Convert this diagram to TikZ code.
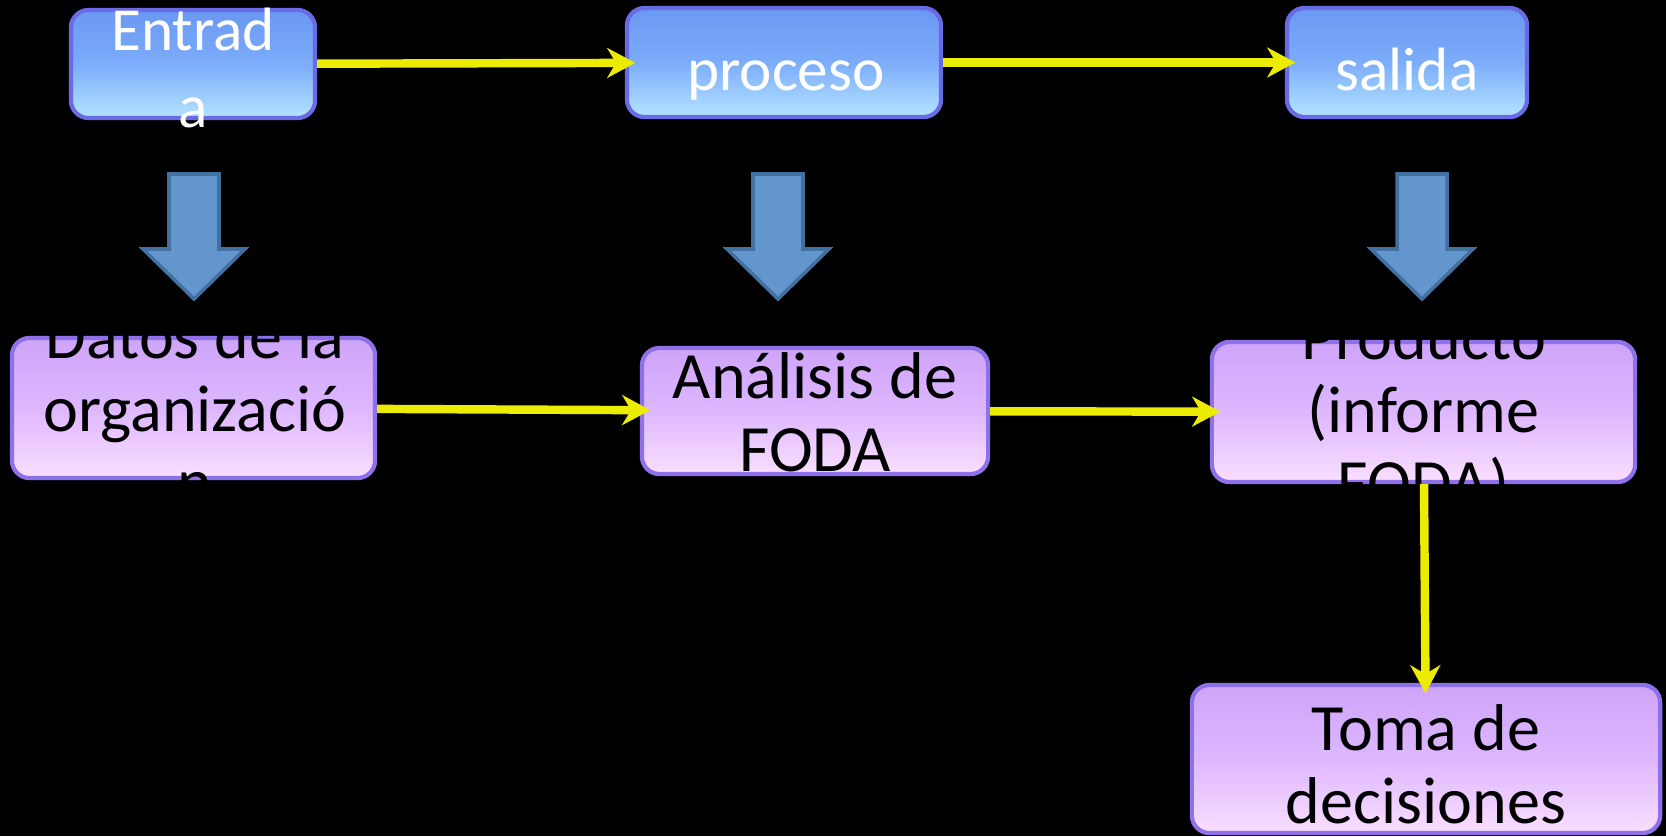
\documentclass[tikz,border=0pt]{standalone}
\usepackage{fontspec}
\setmainfont{Carlito}
\usetikzlibrary{positioning, arrows.meta}

\definecolor{boxblue}{RGB}{124,172,250}
\definecolor{boxbluetop}{RGB}{106,152,242}
\definecolor{boxbluelow}{RGB}{180,228,255}
\definecolor{edgeblue}{RGB}{106,106,228}
\definecolor{boxlila}{RGB}{221,183,255}
\definecolor{boxlilatop}{RGB}{206,164,248}
\definecolor{boxlilalow}{RGB}{250,222,255}
\definecolor{edgelila}{RGB}{142,112,232}
\definecolor{flowyellow}{RGB}{236,236,0}
\definecolor{bigblue}{RGB}{100,150,206}
\definecolor{bigedge}{RGB}{66,112,160}

\begin{document}
\begin{tikzpicture}[x=0.01cm, y=-0.01cm]
    % Define styles
    \tikzset{
        topbox/.style={rectangle, rounded corners=5pt, draw=edgeblue, line width=1.2pt,
            top color=boxbluetop, bottom color=boxbluelow, middle color=boxblue, inner sep=0pt},
        botbox/.style={rectangle, rounded corners=5pt, draw=edgelila, line width=1.2pt,
            top color=boxlilatop, bottom color=boxlilalow, middle color=boxlila, inner sep=0pt},
        toptext/.style={anchor=base, inner sep=0pt, text=white, font=\fontsize{17.4}{21.9}\selectfont},
        bottext/.style={anchor=base, inner sep=0pt, text=black, font=\fontsize{18.8}{20.8}\selectfont},
        flow/.style={-{Stealth[length=8pt, width=8.5pt, inset=2.5pt]}, line width=2.4pt, draw=flowyellow, shorten >=-3pt},
        bigarrow/.style={fill=bigblue, draw=bigedge, line width=1pt, line join=miter}
    }

    % Background and page size
    \fill[black] (0,0) rectangle (1666,836);
    \useasboundingbox (0,0) rectangle (1666,836);

    % Top row: entrada, proceso, salida
    \node (ent) [topbox, minimum width=2.44cm, minimum height=1.08cm] at (193,64) {};
    \node (proc) [topbox, minimum width=3.14cm, minimum height=1.09cm] at (784,62.5) {};
    \node (sal) [topbox, minimum width=2.40cm, minimum height=1.09cm] at (1407,62.5) {};

    % Bottom row
    \node (dat) [botbox, minimum width=3.63cm, minimum height=1.40cm] at (193.5,408) {};
    \node (ana) [botbox, minimum width=3.46cm, minimum height=1.26cm] at (815,411) {};
    \node (pro) [botbox, minimum width=4.23cm, minimum height=1.40cm] at (1423.5,412) {};
    \node (tom) [botbox, minimum width=4.68cm, minimum height=1.48cm] at (1426,759) {};

    % Big down arrows
    \foreach \cx in {194, 778, 1422} {
        \draw [bigarrow] (\cx-25,174) -- (\cx+25,174) -- (\cx+25,249) -- (\cx+51,249)
            -- (\cx,299) -- (\cx-51,249) -- (\cx-25,249) -- cycle;
    }

    % Texts
    \node (ent-t) [toptext] at (193,50) {\begin{tabular}[t]{c}Entrad\\a\end{tabular}};
    \node (proc-t) [toptext] at (786,90) {proceso};
    \node (sal-t) [toptext] at (1407,90) {salida};
    \node (dat-t) [bottext] at (195,358) {\begin{tabular}[t]{c}Datos de la\\organizació\\n\end{tabular}};
    \node (ana-t) [bottext] at (815,398) {\begin{tabular}[t]{c}Análisis de\\FODA\end{tabular}};
    \node (pro-t) [bottext] at (1423.5,359) {\begin{tabular}[t]{c}Producto\\(informe\\FODA)\end{tabular}};
    \node (tom-t) [bottext] at (1426,750) {\begin{tabular}[t]{c}Toma de\\decisiones\end{tabular}};

    % Arrows between nodes
    \draw [flow] (ent) -- (proc);
    \draw [flow] (proc) -- (sal);
    \draw [flow] (dat) -- (ana);
    \draw [flow] (ana) -- (pro);
    \draw [flow] (pro) -- (tom);

\end{tikzpicture}
\end{document}
